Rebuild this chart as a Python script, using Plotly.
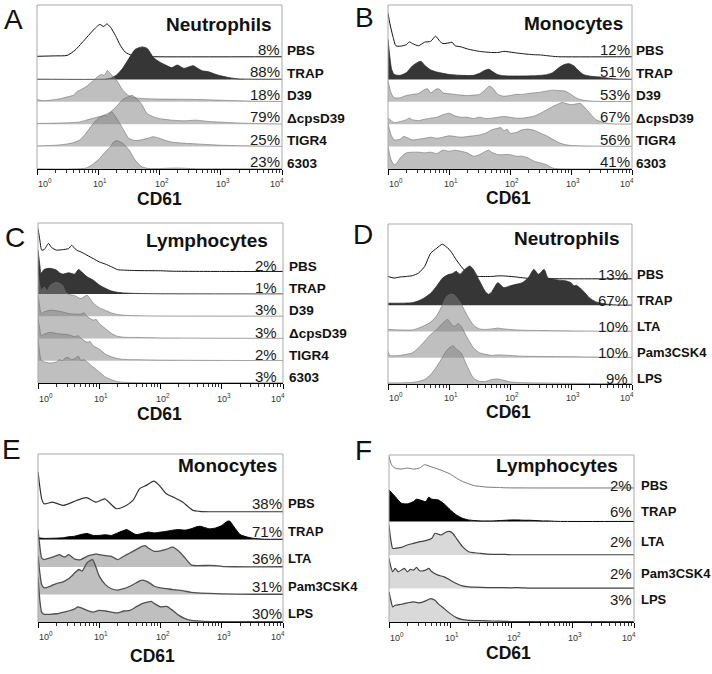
import plotly.graph_objects as go

# ---------------- data: (log10 CD61, histogram height in row units) ----------------
A_PBS = [(0,0.03),(0.3,0.05),(0.49,0.07),(0.62,0.3),(0.73,0.62),(0.84,0.96),(0.94,1.26),(1.0,1.41),(1.03,1.45),(1.09,1.36),(1.14,1.48),(1.2,1.33),(1.28,0.96),(1.36,0.52),(1.44,0.22),(1.55,0.07),(1.69,0.03),(1.9,0.01),(4.0,0.01)]
A_TRAP = [(0,0.01),(1.1,0.01),(1.2,0.05),(1.3,0.2),(1.4,0.5),(1.5,0.93),(1.6,1.33),(1.65,1.4),(1.72,1.45),(1.8,1.38),(1.9,0.98),(2.0,0.78),(2.1,0.64),(2.2,0.52),(2.29,0.64),(2.4,0.49),(2.55,0.61),(2.62,0.5),(2.7,0.38),(2.8,0.34),(2.9,0.24),(3.0,0.16),(3.1,0.1),(3.2,0.05),(3.3,0.02),(3.5,0.01),(4.0,0.01)]
A_D39 = [(0,0.1),(0.1,0.05),(0.3,0.1),(0.4,0.15),(0.5,0.22),(0.6,0.3),(0.65,0.45),(0.7,0.52),(0.8,0.67),(0.9,0.9),(1.0,1.14),(1.05,1.22),(1.1,1.18),(1.15,1.4),(1.2,1.25),(1.3,0.96),(1.4,0.52),(1.5,0.27),(1.6,0.18),(1.7,0.15),(2.0,0.12),(2.5,0.11),(3.0,0.07),(3.5,0.03),(4.0,0.01)]
A_DCPS = [(0,0.03),(0.5,0.06),(0.7,0.1),(0.8,0.18),(0.9,0.25),(1.0,0.33),(1.1,0.4),(1.2,0.55),(1.3,0.8),(1.4,1.1),(1.5,1.24),(1.55,1.29),(1.6,1.21),(1.7,0.92),(1.8,0.47),(1.9,0.33),(2.0,0.25),(2.2,0.18),(2.4,0.15),(2.6,0.18),(2.8,0.12),(3.0,0.09),(3.5,0.03),(4.0,0.01)]
A_TIGR4 = [(0,0.03),(0.3,0.06),(0.5,0.12),(0.6,0.18),(0.7,0.3),(0.8,0.6),(0.9,0.96),(1.0,1.26),(1.1,1.4),(1.15,1.36),(1.22,1.55),(1.3,1.26),(1.4,0.81),(1.5,0.37),(1.6,0.27),(1.7,0.3),(1.8,0.37),(1.9,0.44),(2.0,0.37),(2.1,0.27),(2.2,0.2),(2.4,0.15),(2.6,0.12),(2.8,0.09),(3.0,0.06),(3.5,0.03),(4.0,0.01)]
A_6303 = [(0,0.01),(0.8,0.04),(0.9,0.19),(1.0,0.41),(1.1,0.71),(1.2,1.0),(1.25,1.2),(1.3,1.27),(1.4,1.15),(1.5,0.86),(1.6,0.41),(1.7,0.12),(1.8,0.03),(2.0,0.02),(2.2,0.04),(2.35,0.04),(2.5,0.02),(2.7,0.01),(4.0,0.01)]

B_PBS = [(0,1.95),(0.03,1.5),(0.08,0.92),(0.13,0.5),(0.2,0.48),(0.3,0.55),(0.35,0.67),(0.4,0.6),(0.5,0.5),(0.6,0.66),(0.7,0.7),(0.78,0.93),(0.85,0.7),(0.9,0.6),(1.0,0.63),(1.05,0.66),(1.1,0.5),(1.2,0.45),(1.3,0.36),(1.4,0.3),(1.5,0.25),(1.6,0.22),(1.7,0.2),(1.8,0.2),(1.9,0.25),(2.0,0.22),(2.1,0.18),(2.2,0.15),(2.3,0.12),(2.4,0.1),(2.5,0.09),(2.6,0.06),(2.7,0.03),(2.8,0.01),(4.0,0.01)]
B_TRAP = [(0,1.79),(0.03,1.0),(0.06,0.45),(0.1,0.22),(0.2,0.18),(0.3,0.3),(0.4,0.6),(0.5,0.78),(0.55,0.79),(0.6,0.63),(0.7,0.42),(0.8,0.33),(0.9,0.27),(1.0,0.22),(1.2,0.18),(1.4,0.18),(1.5,0.27),(1.6,0.42),(1.66,0.45),(1.7,0.37),(1.8,0.21),(1.9,0.16),(2.0,0.15),(2.2,0.15),(2.4,0.16),(2.6,0.21),(2.7,0.3),(2.8,0.52),(2.9,0.67),(2.97,0.7),(3.05,0.6),(3.1,0.45),(3.2,0.22),(3.3,0.15),(3.4,0.12),(3.5,0.1),(3.6,0.06),(3.7,0.03),(3.8,0.01),(4.0,0.01)]
B_D39 = [(0,0.93),(0.05,0.4),(0.1,0.18),(0.2,0.18),(0.3,0.28),(0.4,0.33),(0.5,0.37),(0.6,0.55),(0.65,0.58),(0.7,0.4),(0.8,0.58),(0.85,0.55),(0.9,0.4),(1.0,0.36),(1.1,0.33),(1.2,0.3),(1.3,0.28),(1.4,0.3),(1.5,0.33),(1.6,0.55),(1.66,0.7),(1.72,0.6),(1.8,0.33),(1.9,0.25),(2.0,0.28),(2.1,0.33),(2.2,0.33),(2.3,0.37),(2.4,0.4),(2.5,0.43),(2.6,0.48),(2.7,0.52),(2.8,0.5),(2.9,0.48),(3.0,0.33),(3.1,0.15),(3.2,0.07),(3.3,0.04),(3.4,0.02),(4.0,0.01)]
B_DCPS = [(0,0.27),(0.1,0.07),(0.2,0.12),(0.3,0.2),(0.35,0.27),(0.4,0.2),(0.5,0.16),(0.6,0.22),(0.7,0.27),(0.8,0.31),(0.9,0.42),(1.0,0.49),(1.1,0.37),(1.2,0.31),(1.3,0.31),(1.4,0.25),(1.5,0.31),(1.6,0.25),(1.7,0.27),(1.8,0.31),(1.9,0.34),(2.0,0.31),(2.1,0.27),(2.2,0.27),(2.3,0.31),(2.4,0.37),(2.5,0.49),(2.6,0.64),(2.7,0.79),(2.8,0.91),(2.85,0.97),(2.9,0.94),(3.0,0.87),(3.1,0.91),(3.15,0.93),(3.2,0.82),(3.3,0.52),(3.4,0.22),(3.5,0.1),(3.6,0.04),(3.7,0.01),(4.0,0.01)]
B_TIGR4 = [(0,1.04),(0.05,0.52),(0.1,0.3),(0.2,0.33),(0.25,0.45),(0.3,0.42),(0.4,0.3),(0.5,0.33),(0.6,0.37),(0.7,0.42),(0.8,0.37),(0.9,0.42),(1.0,0.48),(1.1,0.45),(1.2,0.42),(1.3,0.45),(1.4,0.48),(1.5,0.52),(1.6,0.6),(1.7,0.75),(1.8,0.82),(1.85,0.85),(1.9,0.7),(1.95,0.78),(2.0,0.6),(2.1,0.63),(2.2,0.75),(2.3,0.78),(2.4,0.72),(2.5,0.6),(2.6,0.48),(2.7,0.33),(2.8,0.18),(2.9,0.09),(3.0,0.05),(3.2,0.03),(3.5,0.02),(4.0,0.01)]
B_6303 = [(0,1.01),(0.05,0.42),(0.1,0.19),(0.15,0.27),(0.2,0.49),(0.3,0.72),(0.4,0.75),(0.5,0.75),(0.6,0.72),(0.7,0.75),(0.8,0.69),(0.9,0.84),(1.0,0.79),(1.1,0.84),(1.2,0.79),(1.3,0.72),(1.4,0.57),(1.5,0.64),(1.6,0.79),(1.65,0.84),(1.7,0.75),(1.8,0.64),(1.9,0.64),(2.0,0.64),(2.1,0.57),(2.2,0.57),(2.3,0.49),(2.4,0.34),(2.5,0.27),(2.6,0.19),(2.7,0.04),(2.8,0.01),(4.0,0.01)]

C_PBS = [(0,1.95),(0.03,1.43),(0.06,0.98),(0.1,1.0),(0.17,1.28),(0.22,1.1),(0.3,0.98),(0.4,1.0),(0.5,1.05),(0.55,1.2),(0.6,1.05),(0.65,0.95),(0.7,0.9),(0.8,0.75),(0.9,0.6),(1.0,0.45),(1.1,0.35),(1.2,0.23),(1.3,0.1),(1.4,0.08),(1.6,0.06),(2.0,0.05),(2.2,0.03),(3.0,0.02),(4.0,0.02)]
C_TRAP = [(0,1.98),(0.03,1.3),(0.05,0.93),(0.1,1.11),(0.2,1.16),(0.3,1.08),(0.35,0.96),(0.4,0.9),(0.5,0.96),(0.6,0.9),(0.66,1.11),(0.72,0.98),(0.8,0.78),(0.9,0.63),(1.0,0.41),(1.1,0.26),(1.2,0.14),(1.3,0.08),(1.4,0.05),(1.6,0.03),(2.0,0.015),(4.0,0.01)]
C_D39 = [(0,1.92),(0.03,1.4),(0.05,1.17),(0.1,1.32),(0.15,1.17),(0.2,1.4),(0.3,1.53),(0.4,1.4),(0.45,1.1),(0.5,0.99),(0.6,0.93),(0.7,0.8),(0.8,0.95),(0.85,0.8),(0.9,0.6),(1.0,0.39),(1.1,0.27),(1.2,0.15),(1.3,0.08),(1.4,0.05),(1.6,0.03),(2.0,0.015),(4.0,0.01)]
C_DCPS = [(0,1.95),(0.03,1.4),(0.05,1.13),(0.1,1.2),(0.2,1.28),(0.3,1.25),(0.4,1.2),(0.5,1.13),(0.6,1.1),(0.7,1.1),(0.75,1.16),(0.8,1.0),(0.9,0.83),(0.95,0.86),(1.0,0.68),(1.1,0.45),(1.2,0.23),(1.3,0.1),(1.4,0.06),(1.6,0.05),(2.0,0.03),(3.0,0.015),(4.0,0.01)]
C_TIGR4 = [(0,1.95),(0.03,1.4),(0.05,1.13),(0.1,1.2),(0.2,1.28),(0.3,1.23),(0.4,1.2),(0.5,1.17),(0.6,1.08),(0.65,1.13),(0.7,1.02),(0.8,0.83),(0.85,0.87),(0.9,0.68),(1.0,0.53),(1.1,0.3),(1.2,0.18),(1.3,0.1),(1.4,0.06),(1.6,0.05),(2.0,0.03),(3.0,0.015),(4.0,0.01)]
C_6303 = [(0,2.0),(0.03,1.3),(0.05,1.05),(0.1,0.95),(0.2,0.9),(0.3,0.95),(0.35,1.05),(0.4,1.0),(0.45,1.14),(0.5,1.14),(0.55,1.05),(0.6,1.1),(0.66,1.2),(0.7,1.02),(0.75,1.05),(0.8,0.95),(0.9,0.72),(1.0,0.5),(1.1,0.27),(1.2,0.15),(1.3,0.06),(1.4,0.03),(1.6,0.015),(4.0,0.01)]

D_PBS = [(0,0.1),(0.1,0.04),(0.2,0.08),(0.3,0.1),(0.4,0.13),(0.5,0.23),(0.6,0.48),(0.65,0.74),(0.7,0.99),(0.8,1.18),(0.89,1.33),(0.95,1.24),(1.0,1.14),(1.05,0.99),(1.1,0.8),(1.2,0.48),(1.3,0.23),(1.4,0.12),(1.5,0.1),(1.7,0.1),(1.8,0.12),(1.9,0.12),(2.0,0.1),(2.1,0.08),(2.2,0.05),(2.3,0.03),(2.5,0.02),(3.0,0.01),(4.0,0.01)]
D_TRAP = [(0,0.08),(0.2,0.08),(0.4,0.1),(0.5,0.17),(0.6,0.29),(0.7,0.46),(0.8,0.74),(0.9,1.05),(1.0,1.18),(1.05,1.2),(1.12,1.3),(1.18,1.18),(1.25,1.35),(1.34,1.5),(1.4,1.37),(1.5,0.93),(1.6,0.51),(1.65,0.42),(1.7,0.51),(1.8,0.86),(1.9,0.67),(2.0,0.74),(2.1,0.8),(2.2,0.86),(2.3,1.05),(2.39,1.37),(2.47,1.18),(2.56,1.37),(2.62,1.05),(2.7,0.99),(2.8,0.96),(2.92,0.93),(3.0,0.86),(3.05,0.74),(3.09,0.76),(3.2,0.55),(3.3,0.29),(3.4,0.14),(3.5,0.08),(3.6,0.04),(3.7,0.02),(3.8,0.01),(4.0,0.01)]
D_LTA = [(0,0.08),(0.4,0.06),(0.5,0.13),(0.6,0.23),(0.7,0.36),(0.8,0.61),(0.9,1.05),(0.95,1.31),(1.0,1.4),(1.05,1.43),(1.1,1.37),(1.2,1.05),(1.3,0.61),(1.4,0.25),(1.5,0.1),(1.6,0.08),(1.7,0.1),(1.8,0.13),(1.9,0.1),(2.0,0.08),(2.2,0.05),(2.5,0.04),(3.0,0.025),(3.5,0.015),(4.0,0.01)]
D_PAM = [(0,0.25),(0.03,0.09),(0.2,0.09),(0.3,0.13),(0.4,0.19),(0.5,0.38),(0.6,0.63),(0.7,0.89),(0.8,1.08),(0.9,1.33),(0.98,1.46),(1.05,1.24),(1.1,1.2),(1.15,1.31),(1.2,1.2),(1.3,0.76),(1.4,0.38),(1.5,0.19),(1.6,0.13),(1.7,0.09),(1.8,0.11),(2.0,0.09),(2.2,0.06),(2.5,0.05),(3.0,0.04),(3.5,0.025),(4.0,0.01)]
D_LPS = [(0,0.04),(0.4,0.06),(0.5,0.1),(0.6,0.17),(0.7,0.36),(0.8,0.67),(0.9,1.05),(0.95,1.24),(1.0,1.37),(1.07,1.46),(1.1,1.37),(1.15,1.28),(1.2,1.18),(1.3,0.67),(1.4,0.23),(1.5,0.1),(1.6,0.1),(1.7,0.17),(1.8,0.19),(1.9,0.14),(2.0,0.08),(2.2,0.05),(2.5,0.04),(3.0,0.025),(3.5,0.015),(4.0,0.01)]

E_PBS = [(0,1.45),(0.03,0.91),(0.06,0.48),(0.1,0.3),(0.24,0.36),(0.41,0.24),(0.63,0.42),(0.79,0.52),(0.95,0.36),(1.09,0.48),(1.28,0.12),(1.44,0.24),(1.55,0.42),(1.66,0.85),(1.77,0.97),(1.89,1.12),(1.98,0.97),(2.09,0.67),(2.2,0.55),(2.36,0.36),(2.53,0.06),(2.64,0.025),(2.8,0.01),(4.0,0.01)]
E_TRAP = [(0,0.06),(0.1,0.04),(0.3,0.05),(0.4,0.06),(0.5,0.1),(0.6,0.12),(0.7,0.18),(0.8,0.22),(0.9,0.15),(1.0,0.15),(1.1,0.17),(1.2,0.15),(1.3,0.24),(1.45,0.36),(1.5,0.3),(1.6,0.18),(1.7,0.22),(1.8,0.27),(1.9,0.24),(2.0,0.27),(2.1,0.3),(2.2,0.34),(2.3,0.36),(2.4,0.34),(2.5,0.39),(2.6,0.47),(2.65,0.48),(2.7,0.45),(2.8,0.39),(2.9,0.42),(3.0,0.51),(3.05,0.6),(3.1,0.67),(3.13,0.67),(3.2,0.46),(3.3,0.18),(3.4,0.1),(3.5,0.05),(3.6,0.025),(3.7,0.01),(4.0,0.01)]
E_LTA = [(0,1.36),(0.03,0.75),(0.06,0.33),(0.1,0.27),(0.2,0.33),(0.3,0.41),(0.35,0.45),(0.4,0.39),(0.45,0.37),(0.5,0.45),(0.6,0.29),(0.7,0.27),(0.8,0.39),(0.9,0.45),(0.95,0.48),(1.0,0.45),(1.1,0.41),(1.2,0.39),(1.3,0.27),(1.4,0.39),(1.5,0.51),(1.6,0.63),(1.7,0.75),(1.75,0.78),(1.8,0.69),(1.9,0.57),(2.0,0.59),(2.1,0.65),(2.2,0.72),(2.3,0.57),(2.4,0.33),(2.5,0.08),(2.6,0.05),(2.8,0.06),(2.9,0.05),(3.0,0.025),(3.2,0.01),(4.0,0.01)]
E_PAM = [(0,1.4),(0.03,0.79),(0.06,0.36),(0.1,0.24),(0.2,0.3),(0.3,0.4),(0.4,0.45),(0.5,0.57),(0.55,0.67),(0.6,0.79),(0.67,0.91),(0.72,0.85),(0.8,1.15),(0.89,1.27),(0.95,0.97),(1.0,0.67),(1.1,0.36),(1.2,0.21),(1.3,0.16),(1.4,0.21),(1.5,0.3),(1.6,0.42),(1.7,0.52),(1.8,0.45),(1.9,0.3),(2.0,0.24),(2.1,0.21),(2.2,0.18),(2.3,0.16),(2.4,0.12),(2.5,0.08),(2.6,0.06),(2.8,0.04),(3.0,0.025),(3.5,0.01),(4.0,0.01)]
E_LPS = [(0,1.64),(0.03,0.79),(0.06,0.36),(0.1,0.28),(0.2,0.28),(0.3,0.3),(0.4,0.35),(0.5,0.4),(0.6,0.48),(0.65,0.55),(0.7,0.52),(0.8,0.42),(0.9,0.36),(1.0,0.42),(1.1,0.4),(1.2,0.36),(1.3,0.33),(1.4,0.4),(1.5,0.42),(1.6,0.55),(1.7,0.67),(1.8,0.73),(1.85,0.75),(1.9,0.67),(2.0,0.55),(2.1,0.57),(2.2,0.42),(2.3,0.24),(2.4,0.12),(2.5,0.06),(2.6,0.04),(2.7,0.025),(2.9,0.01),(4.0,0.01)]

F_PBS = [(0,0.95),(0.03,0.75),(0.06,0.65),(0.1,0.6),(0.2,0.57),(0.3,0.6),(0.4,0.57),(0.5,0.6),(0.58,0.7),(0.7,0.63),(0.8,0.57),(0.9,0.5),(1.0,0.42),(1.1,0.3),(1.2,0.2),(1.3,0.13),(1.4,0.07),(1.5,0.05),(1.6,0.03),(1.8,0.02),(1.9,0.01),(4.0,0.005)]
F_TRAP = [(0,0.95),(0.05,0.85),(0.1,0.75),(0.2,0.55),(0.3,0.53),(0.4,0.6),(0.45,0.67),(0.5,0.65),(0.6,0.6),(0.65,0.73),(0.7,0.67),(0.8,0.65),(0.9,0.53),(1.0,0.35),(1.1,0.2),(1.2,0.1),(1.3,0.05),(1.4,0.03),(1.5,0.02),(1.7,0.02),(1.8,0.03),(1.9,0.04),(2.0,0.05),(2.1,0.05),(2.2,0.04),(2.3,0.04),(2.4,0.03),(2.5,0.02),(2.6,0.02),(2.7,0.01),(2.8,0.005),(4.0,0.005)]
F_LTA = [(0,0.9),(0.03,0.45),(0.06,0.2),(0.1,0.2),(0.2,0.23),(0.3,0.3),(0.4,0.35),(0.5,0.4),(0.6,0.43),(0.7,0.5),(0.75,0.65),(0.8,0.63),(0.85,0.6),(0.9,0.65),(0.95,0.7),(1.0,0.7),(1.05,0.63),(1.1,0.5),(1.2,0.25),(1.3,0.1),(1.4,0.07),(1.5,0.05),(1.6,0.03),(1.9,0.02),(2.0,0.01),(4.0,0.01)]
F_PAM = [(0,0.9),(0.03,0.65),(0.06,0.5),(0.1,0.6),(0.15,0.5),(0.25,0.6),(0.3,0.5),(0.35,0.57),(0.4,0.55),(0.45,0.63),(0.5,0.53),(0.6,0.55),(0.65,0.6),(0.7,0.5),(0.8,0.4),(0.9,0.35),(1.0,0.25),(1.1,0.15),(1.2,0.08),(1.3,0.05),(1.4,0.04),(1.6,0.03),(1.8,0.03),(2.0,0.02),(2.1,0.03),(2.2,0.02),(2.3,0.01),(4.0,0.01)]
F_LPS = [(0,0.9),(0.03,0.65),(0.06,0.45),(0.1,0.5),(0.2,0.53),(0.3,0.57),(0.4,0.6),(0.5,0.57),(0.6,0.63),(0.68,0.7),(0.75,0.65),(0.8,0.55),(0.9,0.4),(1.0,0.25),(1.1,0.13),(1.2,0.07),(1.3,0.05),(1.5,0.04),(1.7,0.03),(1.9,0.02),(2.0,0.01),(4.0,0.01)]

ROWS_STRAIN = ["PBS", "TRAP", "D39", "\u0394cpsD39", "TIGR4", "6303"]
ROWS_TLR = ["PBS", "TRAP", "LTA", "Pam3CSK4", "LPS"]

PCT_A = ["8%", "88%", "18%", "79%", "25%", "23%"]
PCT_B = ["12%", "51%", "53%", "67%", "56%", "41%"]
PCT_C = ["2%", "1%", "3%", "3%", "2%", "3%"]
PCT_D = ["13%", "67%", "10%", "10%", "9%"]
PCT_E = ["38%", "71%", "36%", "31%", "30%"]
PCT_F = ["2%", "6%", "2%", "2%", "3%"]

TICK_LOGS = [0, 1, 2, 3, 4]
TICK_TEXT = ["10<sup>%d</sup>" % k for k in TICK_LOGS]
MINOR_TICKS = [m * 10 ** d for d in range(4) for m in range(2, 10)]

# ---------------- layout / style ----------------
W, H = 712, 674
FONT = "Liberation Sans, Arial, Helvetica, sans-serif"

def px(x):
    return x / W

def py(y):
    return 1 - y / H

STYLE_ABCD = dict(
    pbs=dict(line="#111111", width=1.0, fill=None),
    trap=dict(line="#2a2a2a", width=0.8, fill="#363636"),
    gray=dict(line="rgba(110,110,110,0.75)", width=0.8, fill="rgba(128,128,128,0.5)"),
)
STYLE_E = dict(
    pbs=dict(line="#333333", width=1.2, fill=None),
    trap=dict(line="#000000", width=1.0, fill="#000000"),
    gray=dict(line="#505050", width=1.3, fill="rgba(128,128,128,0.5)"),
)
STYLE_F = dict(
    pbs=dict(line="#777777", width=1.0, fill=None),
    trap=dict(line="#000000", width=1.0, fill="#000000"),
    gray=dict(line="#444444", width=1.2, fill="rgba(180,180,180,0.5)"),
)

PANELS = [
    dict(letter="A", letter_xy=(13, 19), title="Neutrophils", title_xy=(273, 24),
         box=(37, 5, 282, 169), ytop=7.32, names=ROWS_STRAIN, pcts=PCT_A,
         data=[A_PBS, A_TRAP, A_D39, A_DCPS, A_TIGR4, A_6303], style=STYLE_ABCD,
         pct_x=281, lab_x=286, pct_dy=7.5, lab_dy=6, lab_size=13.5, tick_dy=14, cd61_xy=(159, 199)),
    dict(letter="B", letter_xy=(364, 17), title="Monocytes", title_xy=(624, 23),
         box=(388, 5, 632, 169), ytop=7.32, names=ROWS_STRAIN, pcts=PCT_B,
         data=[B_PBS, B_TRAP, B_D39, B_DCPS, B_TIGR4, B_6303], style=STYLE_ABCD,
         pct_x=631, lab_x=635, pct_dy=7.5, lab_dy=6, lab_size=13.5, tick_dy=14, cd61_xy=(508.5, 198)),
    dict(letter="C", letter_xy=(15, 237), title="Lymphocytes", title_xy=(269, 240),
         box=(38, 223, 283, 383), ytop=7.2, names=ROWS_STRAIN, pcts=PCT_C,
         data=[C_PBS, C_TRAP, C_D39, C_DCPS, C_TIGR4, C_6303], style=STYLE_ABCD,
         pct_x=278, lab_x=288, pct_dy=6.5, lab_dy=5.5, lab_size=13.5, tick_dy=15, cd61_xy=(159, 414)),
    dict(letter="D", letter_xy=(363, 234), title="Neutrophils", title_xy=(621, 239),
         box=(388, 224, 632, 384), ytop=6.1, names=ROWS_TLR, pcts=PCT_D,
         data=[D_PBS, D_TRAP, D_LTA, D_PAM, D_LPS], style=STYLE_ABCD,
         pct_x=629, lab_x=636, pct_dy=5, lab_dy=5, lab_size=13, tick_dy=13, cd61_xy=(508.5, 412)),
    dict(letter="E", letter_xy=(11, 449), title="Monocytes", title_xy=(278, 465),
         box=(38, 454, 283, 622), ytop=6.11, names=ROWS_TLR, pcts=PCT_E,
         data=[E_PBS, E_TRAP, E_LTA, E_PAM, E_LPS], style=STYLE_E,
         pct_x=283, lab_x=287, pct_dy=8.5, lab_dy=8.5, lab_size=13, tick_dy=14, cd61_xy=(152.5, 656)),
    dict(letter="F", letter_xy=(363, 451), title="Lymphocytes", title_xy=(619, 465),
         box=(389, 455, 634, 622), ytop=4.99, names=ROWS_TLR, pcts=PCT_F,
         data=[F_PBS, F_TRAP, F_LTA, F_PAM, F_LPS], style=STYLE_F,
         pct_x=633, lab_x=640, label_px=[485, 511, 541, 573, 599], lab_size=13, tick_dy=14.5,
         cd61_xy=(508.5, 653)),
]

fig = go.Figure()
annotations = []
shapes = []
layout_axes = {}
NP = len(PANELS)

for i, p in enumerate(PANELS):
    sfx = "" if i == 0 else str(i + 1)
    xa, ya = "x" + sfx, "y" + sfx
    msfx = str(NP + 1 + i)
    x0, y0, x1, y1 = p["box"]
    n = len(p["names"])
    sty = p["style"]

    layout_axes["xaxis" + sfx] = dict(
        type="log", range=[0, 4], domain=[px(x0), px(x1)], anchor=ya,
        showgrid=False, zeroline=False, showline=True, linecolor="#000000", linewidth=1.4,
        ticks="outside", ticklen=4.5, tickwidth=1, tickcolor="#000000",
        tickvals=[10 ** k for k in TICK_LOGS], showticklabels=False,
    )
    layout_axes["xaxis" + msfx] = dict(
        type="log", range=[0, 4], overlaying=xa, anchor=ya, side="bottom",
        showgrid=False, zeroline=False, showline=False,
        ticks="outside", ticklen=2.5, tickwidth=0.8, tickcolor="#000000",
        tickvals=MINOR_TICKS, showticklabels=False,
    )
    layout_axes["yaxis" + sfx] = dict(
        range=[0, p["ytop"]], domain=[py(y1), py(y0)], anchor=xa, visible=False, fixedrange=True,
    )

    for r in range(n):
        off = n - 1 - r
        kind = "pbs" if r == 0 else ("trap" if r == 1 else "gray")
        st = sty[kind]
        pts = p["data"][r]
        xs = [10 ** lx for lx, _ in pts]
        ys = [off + h for _, h in pts]
        if st["fill"] is not None:
            fig.add_trace(go.Scatter(x=[1, 10000], y=[off, off], mode="lines",
                                     line=dict(width=0, color="rgba(0,0,0,0)"),
                                     xaxis=xa, yaxis=ya, hoverinfo="skip", showlegend=False))
            fig.add_trace(go.Scatter(x=xs, y=ys, mode="lines", fill="tonexty",
                                     fillcolor=st["fill"],
                                     line=dict(color=st["line"], width=st["width"], shape="spline", smoothing=0.6),
                                     xaxis=xa, yaxis=ya, hoverinfo="skip", showlegend=False))
        else:
            fig.add_trace(go.Scatter(x=xs, y=ys, mode="lines",
                                     line=dict(color=st["line"], width=st["width"], shape="spline", smoothing=0.6),
                                     xaxis=xa, yaxis=ya, hoverinfo="skip", showlegend=False))

        if "label_px" in p:
            yc = py(p["label_px"][r])
            common = dict(xref="paper", yref="paper", y=yc, yanchor="middle", showarrow=False, borderpad=0)
            annotations.append(dict(x=px(p["pct_x"]), xanchor="right", text=p["pcts"][r],
                                    font=dict(family=FONT, size=15, color="#1a1a1a"), **common))
            annotations.append(dict(x=px(p["lab_x"]), xanchor="left", text=p["names"][r],
                                    font=dict(family=FONT, size=p["lab_size"], color="#111111", weight="bold"), **common))
        else:
            annotations.append(dict(xref="paper", yref=ya, x=px(p["pct_x"]), y=off, yshift=p["pct_dy"],
                                    xanchor="right", yanchor="middle", showarrow=False, borderpad=0,
                                    text=p["pcts"][r], font=dict(family=FONT, size=15, color="#1a1a1a")))
            annotations.append(dict(xref="paper", yref=ya, x=px(p["lab_x"]), y=off, yshift=p["lab_dy"],
                                    xanchor="left", yanchor="middle", showarrow=False, borderpad=0,
                                    text=p["names"][r],
                                    font=dict(family=FONT, size=p["lab_size"], color="#111111", weight="bold")))

    fig.add_trace(go.Scatter(x=[10, 100], y=[0, 0], mode="markers", marker=dict(opacity=0, size=1),
                             xaxis="x" + msfx, yaxis=ya, hoverinfo="skip", showlegend=False))

    for k, txt in zip(TICK_LOGS, TICK_TEXT):
        xs_shift = 8 if k == 0 else (-5 if k == 4 else 2)
        annotations.append(dict(xref=xa, yref=ya, x=k, y=0, yshift=-p["tick_dy"], xshift=xs_shift,
                                xanchor="center", yanchor="middle", showarrow=False, borderpad=0,
                                text=txt, font=dict(family=FONT, size=9, color="#333333")))

    annotations.append(dict(xref="paper", yref="paper", x=px(p["title_xy"][0]), y=py(p["title_xy"][1]),
                            xanchor="right", yanchor="middle", showarrow=False, borderpad=0,
                            text=p["title"], font=dict(family=FONT, size=19, color="#111111", weight="bold")))
    annotations.append(dict(xref="paper", yref="paper", x=px(p["cd61_xy"][0]), y=py(p["cd61_xy"][1]),
                            xanchor="center", yanchor="middle", showarrow=False, borderpad=0,
                            text="CD61", font=dict(family=FONT, size=17.5, color="#111111", weight="bold")))
    annotations.append(dict(xref="paper", yref="paper", x=px(p["letter_xy"][0]), y=py(p["letter_xy"][1]),
                            xanchor="center", yanchor="middle", showarrow=False, borderpad=0,
                            text=p["letter"], font=dict(family=FONT, size=28, color="#111111")))

    frame = dict(type="line", xref=xa + " domain", yref=ya + " domain", layer="above",
                 line=dict(color="#a9a9a9", width=1))
    shapes.append(dict(frame, x0=0, x1=0, y0=0, y1=1))
    shapes.append(dict(frame, x0=0, x1=1, y0=1, y1=1))
    shapes.append(dict(frame, x0=1, x1=1, y0=0, y1=1))

fig.update_layout(
    width=W, height=H, margin=dict(l=0, r=0, t=0, b=0),
    paper_bgcolor="white", plot_bgcolor="white", showlegend=False,
    annotations=annotations, shapes=shapes, **layout_axes,
)

fig.write_html("out.html", config={"displayModeBar": False, "staticPlot": True},
               post_script="document.body.style.margin='0px';")
